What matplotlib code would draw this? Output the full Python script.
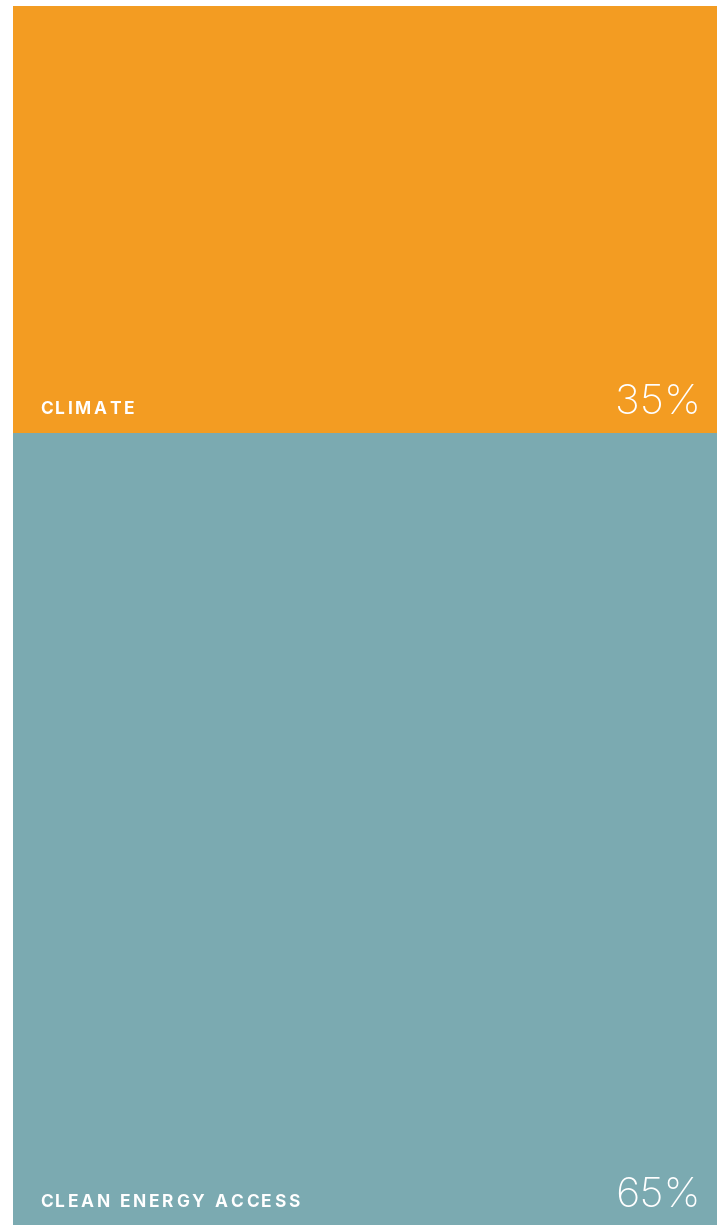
import matplotlib.pyplot as plt
from matplotlib.transforms import offset_copy

# share of funding by area
categories = ["CLIMATE", "CLEAN ENERGY ACCESS"]
shares = [35, 65]
colors = ["#f39c22", "#7baab1"]

W, H = 717, 1226
fig = plt.figure(figsize=(W / 100, H / 100), dpi=100)
ax = fig.add_axes([13 / W, 1 / H, 1 - 13 / W, 1 - 7 / H])
ax.set_xlim(-0.5, 0.5)
ax.set_ylim(0, 100)
ax.axis("off")
renderer = fig.canvas.get_renderer()


def spaced_text(x, y, s, track=2.6, **kw):
    # matplotlib has no letter spacing, so place the letters one by one
    dx = 0.0
    for ch in s:
        t = ax.text(x, y, ch, transform=offset_copy(ax.transData, fig=fig, x=dx * 72 / fig.dpi, y=0, units="points"), **kw)
        w = t.get_window_extent(renderer).width if ch != " " else kw["fontsize"] * 0.3 * fig.dpi / 72
        dx += w + track


bottom = 100
for cat, val, col in zip(categories, shares, colors):
    bottom -= val
    ax.bar(0, val, bottom=bottom, width=1, color=col)
    spaced_text(-0.5 + 27 / 704, bottom + 1.5, cat, color="white", fontsize=12.5,
                family="Inter", fontweight="bold", ha="left", va="baseline")
    ax.text(0.5 - 16 / 704, bottom + 1.5, f"{val}%", color="white", fontsize=30,
            family="Inter", fontweight="light", ha="right", va="baseline")

fig.savefig("out.png", dpi=100)
